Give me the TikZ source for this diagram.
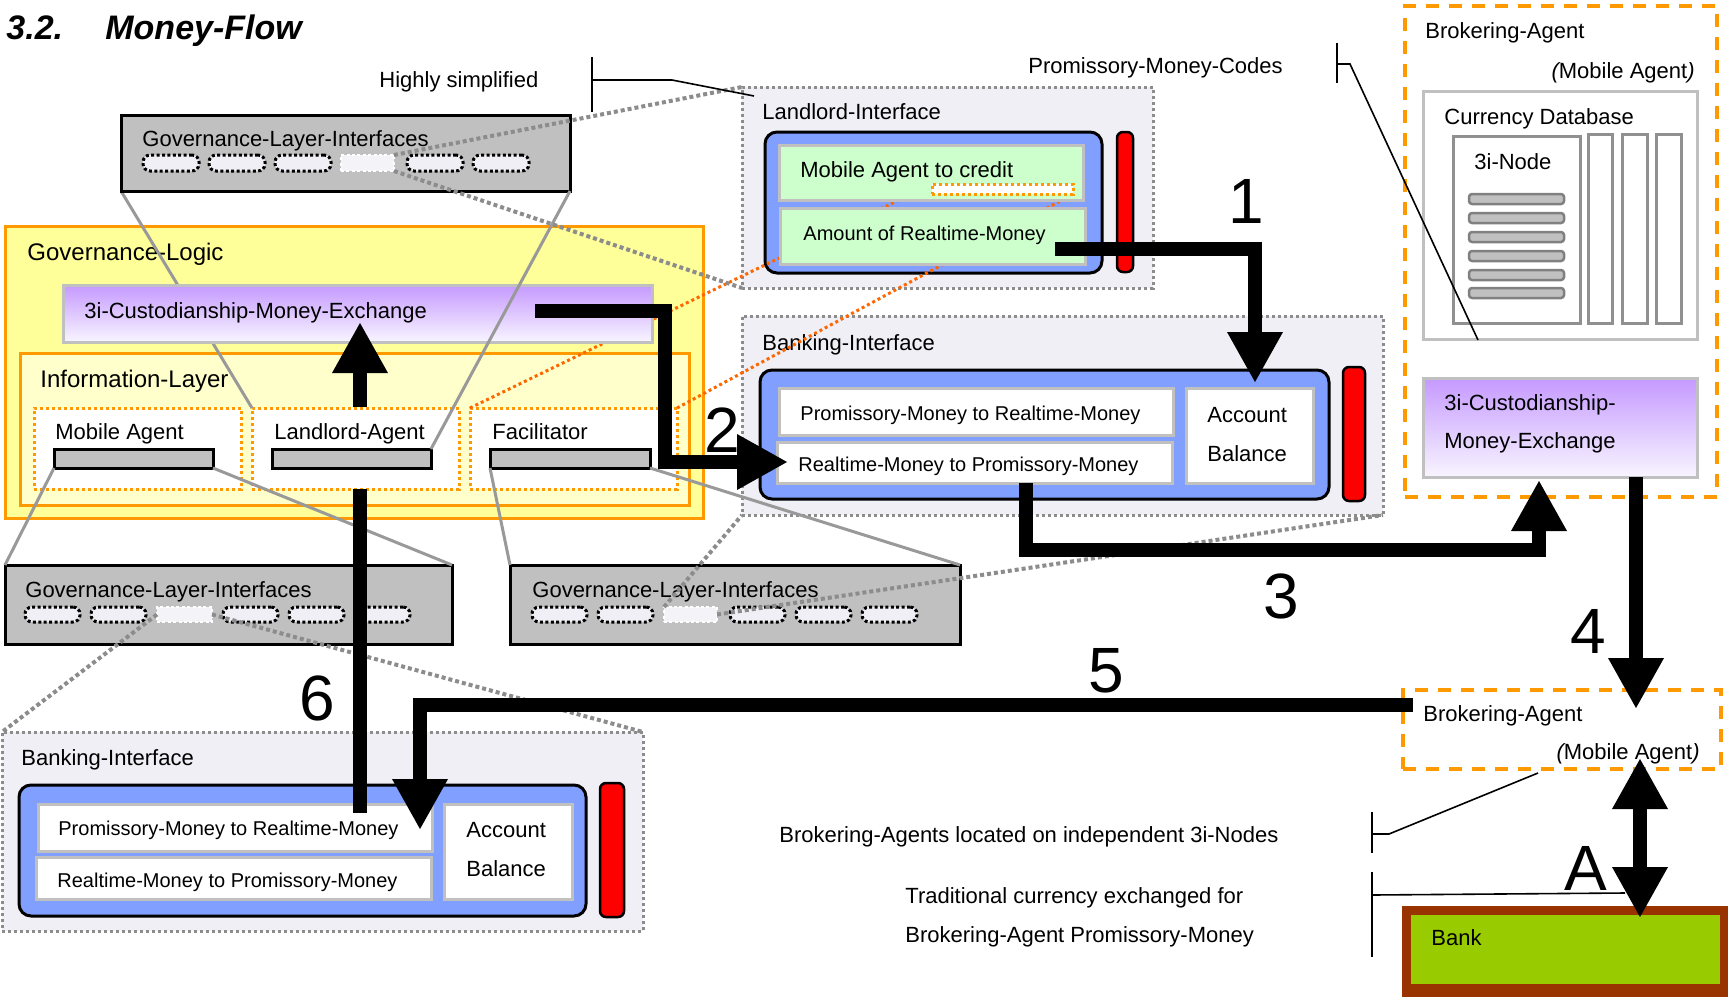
\documentclass[tikz,border=0pt]{standalone}
\usepackage{fontspec}
\setmainfont{Liberation Sans}
\usetikzlibrary{fit,arrows.meta}
\definecolor{ylw}{HTML}{FFFF99}
\definecolor{lylw}{HTML}{FFFFCC}
\definecolor{org}{HTML}{FF9900}
\definecolor{dorg}{HTML}{FF6600}
\definecolor{panec}{HTML}{EFEFF5}
\definecolor{slotw}{HTML}{F4F4F8}
\definecolor{blu}{HTML}{809FFF}
\definecolor{grn}{HTML}{CCFFCC}
\definecolor{gli}{HTML}{C0C0C0}
\definecolor{brn}{HTML}{993300}
\definecolor{lime}{HTML}{99CC00}
\definecolor{purp}{HTML}{C599FF}
\definecolor{purpw}{HTML}{F8F5FF}
\definecolor{lnc}{HTML}{999999}
\definecolor{dgr}{HTML}{8C8C8C}
\definecolor{mgr}{HTML}{909090}
\begin{document}
\begin{tikzpicture}[x=0.5pt,y=-0.5pt,
  box/.style={inner sep=0pt, outer sep=0pt},
  gov/.style={box, fill=ylw, draw=org, line width=1.5pt},
  info/.style={box, fill=lylw, draw=org, line width=1.5pt},
  agent/.style={box, fill=white, draw=org, line width=1.5pt, dash pattern=on 1.5pt off 1.5pt},
  bar/.style={box, fill=gli, draw=black, line width=1.5pt},
  glibox/.style={box, fill=gli, draw=black, line width=1.5pt},
  slot/.style={box, fill=panec, draw=black, line width=1.5pt, dash pattern=on 1.5pt off 1.2pt, rounded corners=3.5pt},
  slotlt/.style={box, fill=slotw, draw=white, line width=1pt, dash pattern=on 1.5pt off 1.2pt},
  panebox/.style={box, fill=panec, draw=dgr, line width=1.5pt, dash pattern=on 1.5pt off 1.5pt},
  bluebox/.style={box, fill=blu, draw=black, line width=1.5pt, rounded corners=6pt},
  greenbox/.style={box, fill=grn, draw=gli, line width=1.5pt},
  whitebox/.style={box, fill=white, draw=gli, line width=1.5pt},
  redbar/.style={box, fill=red, draw=black, line width=1.25pt, rounded corners=3pt},
  purplebox/.style={box, top color=purp, bottom color=purpw, draw=gli, line width=1.5pt},
  broker/.style={box, draw=org, line width=2pt, dash pattern=on 6.5pt off 5pt},
  dbbox/.style={box, fill=white, draw=gli, line width=1.5pt},
  colbox/.style={box, fill=white, draw=mgr, line width=1.5pt},
  dbbar/.style={box, fill=gli, draw=gray, line width=1.25pt, rounded corners=1.5pt},
  proj/.style={draw=lnc, line width=1.5pt},
  projdot/.style={draw=dgr, line width=2pt, dash pattern=on 2pt off 1.5pt},
  orgdot/.style={draw=dorg, line width=1.5pt, dash pattern=on 1.5pt off 1.5pt},
  brk/.style={draw=black, line width=0.8pt},
  flow/.style={draw=black, line width=6.75pt, line join=miter},
  tipA/.style={-{Triangle[length=25.5pt,width=26pt]}},
  lbl/.style={anchor=base west, inner sep=0pt, font=\fontsize{11}{13}\selectfont},
  lblr/.style={anchor=base east, inner sep=0pt, font=\fontsize{11}{13}\selectfont},
  small/.style={anchor=base west, inner sep=0pt, font=\fontsize{10}{12}\selectfont},
  big/.style={anchor=base west, inner sep=0pt, font=\fontsize{12}{14}\selectfont},
  num/.style={anchor=base west, inner sep=0pt, font=\fontsize{32}{36}\selectfont},
  ttl/.style={anchor=base west, inner sep=0pt, font=\fontsize{17}{20}\selectfont\bfseries\itshape}
]
\useasboundingbox (0,0) rectangle (1728,996);

% ---------- title ----------
\node[ttl] (t1) at (6,39) {3.2.};
\node[ttl] (t2) at (105,39) {Money-Flow};

% ---------- governance logic ----------
\node[gov, fit={(5,226) (703,518)}] (gov) {};
\node[big] (govL) at (27,260) {Governance-Logic};
\node[info, fit={(20,353) (689,505)}] (info) {};
\node[big] (infoL) at (40,387) {Information-Layer};
\node[agent, fit={(34,408) (241,489)}] (maBox) {};
\node[agent, fit={(252,408) (459,489)}] (laBox) {};
\node[agent, fit={(470,408) (677,489)}] (faBox) {};
\node[lbl] (maL) at (55,439) {Mobile Agent};
\node[lbl] (laL) at (274,439) {Landlord-Agent};
\node[lbl] (faL) at (492,439) {Facilitator};
\node[bar, fit={(54,449) (213,468)}] (maBar) {};
\node[bar, fit={(272,449) (431,468)}] (laBar) {};
\node[bar, fit={(490,449) (650,468)}] (faBar) {};

% ---------- landlord interface ----------
\node[panebox, fit={(742,87) (1153,288)}] (llBox) {};
\node[lbl] (llL) at (762,119) {Landlord-Interface};
\node[bluebox, fit={(765,132) (1102,273)}] (llBlue) {};
\node[redbar, fit={(1117,132) (1133,272)}] (llRed) {};

% ---------- middle banking interface ----------
\node[panebox, fit={(742,316) (1383,515)}] (bkM) {};
\node[lbl] (bkML) at (762,350) {Banking-Interface};
\node[bluebox, fit={(760,370) (1329,499)}] (bkMBlue) {};
\node[whitebox, fit={(779,388) (1173,435)}] (bkMp) {};
\node[whitebox, fit={(777,442) (1172,483)}] (bkMr) {};
\node[whitebox, fit={(1186,388) (1313,483)}] (bkMa) {};
\node[small] at (800,420) {Promissory-Money to Realtime-Money};
\node[small] at (798,471) {Realtime-Money to Promissory-Money};
\node[lbl] at (1207,422) {Account};
\node[lbl] at (1207,461) {Balance};
\node[redbar, fit={(1343,367) (1365,501)}] (bkMRed) {};

% hidden grey projection line (behind the exchange box)
\draw[proj] (121,191) -- (laBox.north west);

% orange dotted lines from Facilitator to the credit field
\coordinate (tagNW) at (932,184);
\coordinate (tagSE) at (1073,194);
\draw[orgdot] (faBox.north west) -- (tagNW);
\draw[orgdot] (faBox.north east) -- (tagSE);

% exchange box
\node[purplebox, fit={(63,285) (652,342)}] (exch) {};
\node[lbl] (exchL) at (84,318) {3i-Custodianship-Money-Exchange};

% green boxes
\node[greenbox, fit={(779,145) (1083,200)}] (grn1) {};
\node[greenbox, fit={(780,208) (1085,264)}] (grn2) {};
\node[lbl] at (800,177) {Mobile Agent to credit};
\node[small] at (803,240) {Amount of Realtime-Money};
\node[agent, fit={(tagNW) (tagSE)}] (tag) {};

% ---------- governance layer interfaces ----------
\node[glibox, fit={(121,115) (570,191)}] (gliTop) {};
\node[lbl] at (142,146) {Governance-Layer-Interfaces};
\foreach \i in {0,1,2,4,5}
  \node[slot, fit={(143+66*\i,155) (199+66*\i,171)}] (ts\i) {};
\node[slotlt, fit={(341,155) (394,171)}] (ts3) {};

\node[glibox, fit={(5,565) (452,644)}] (gliL) {};
\node[lbl] at (25,597) {Governance-Layer-Interfaces};
\foreach \i in {0,1,3,4,5}
  \node[slot, fit={(25+66*\i,607) (80+66*\i,622)}] (ls\i) {};
\node[slotlt, fit={(157,607) (212,622)}] (ls2) {};

\node[glibox, fit={(510,565) (960,644)}] (gliR) {};
\node[lbl] at (532,597) {Governance-Layer-Interfaces};
\foreach \i in {0,1,3,4,5}
  \node[slot, fit={(532+66*\i,607) (587+66*\i,622)}] (rs\i) {};
\node[slotlt, fit={(664,607) (717,622)}] (rs2) {};

% grey solid projection lines
\draw[proj] (gliTop.south east) -- (laBar.north east);
\draw[proj] (maBar.south west) -- (gliL.north west);
\draw[proj] (maBar.south east) -- (gliL.north east);
\draw[proj] (faBar.south west) -- (gliR.north west);
\draw[proj] (faBar.south east) -- (gliR.north east);

% ---------- lower banking interface ----------
\node[panebox, fit={(2,732) (643,931)}] (bkL) {};
\node[lbl] at (21,765) {Banking-Interface};
\node[bluebox, fit={(19,785) (586,916)}] (bkLBlue) {};
\node[whitebox, fit={(38,804) (432,851)}] (bkLp) {};
\node[whitebox, fit={(36,857) (431,899)}] (bkLr) {};
\node[whitebox, fit={(444,804) (572,899)}] (bkLa) {};
\node[small] at (58,835) {Promissory-Money to Realtime-Money};
\node[small] at (57,887) {Realtime-Money to Promissory-Money};
\node[lbl] at (466,837) {Account};
\node[lbl] at (466,876) {Balance};
\node[redbar, fit={(600,783) (624,917)}] (bkLRed) {};

% grey dotted projection lines
\draw[projdot] (ts3.north east) -- (llBox.north west);
\draw[projdot] (ts3.south east) -- (llBox.south west);
\draw[projdot] (ls2.west) -- (bkL.north west);
\draw[projdot] (ls2.east) -- (bkL.north east);
\draw[projdot] (rs2.north west) -- (bkM.south west);
\draw[projdot] (rs2.east) -- (bkM.south east);

% ---------- brokering agent (top) ----------
\node[broker, fit={(1405,6) (1717,497)}] (baTop) {};
\node[lbl] at (1425,38) {Brokering-Agent};
\node[lblr] at (1695,78) {{\itshape(}Mobile Agent{\itshape)}};
\node[dbbox, fit={(1423,91) (1697,339)}] (cdb) {};
\node[lbl] at (1444,124) {Currency Database};
\node[colbox, fit={(1453,136) (1580,323)}] (node3i) {};
\node[lbl] at (1474,169) {3i-Node};
\foreach \c in {199,218,237,256,275,293}
  \node[dbbar, fit={(1469,\c-5) (1564,\c+5)}] {};
\node[colbox, fit={(1588,134) (1612,323)}] (col1) {};
\node[colbox, fit={(1622,134) (1647,323)}] (col2) {};
\node[colbox, fit={(1656,134) (1681,323)}] (col3) {};
\node[purplebox, fit={(1423,378) (1697,477)}] (baExch) {};
\node[lbl] at (1444,410) {3i-Custodianship-};
\node[lbl] at (1444,448) {Money-Exchange};

% ---------- brokering agent (bottom) ----------
\node[broker, fit={(1403,690) (1721,769)}] (baLow) {};
\node[lbl] at (1423,721) {Brokering-Agent};
\node[lblr] at (1700,759) {{\itshape(}Mobile Agent{\itshape)}};

% ---------- bank ----------
\node[box, fill=brn, fit={(1402,906) (1730,998)}] (bankOut) {};
\node[box, fill=lime, fit={(1411,915) (1720,984)}] (bank) {};
\node[lbl] at (1431,945) {Bank};

% ---------- annotations ----------
\node[lbl] (hs) at (379,87) {Highly simplified};
\draw[brk] (592,57) -- (592,112);
\coordinate (hsEnd) at (754,96);
\draw[brk] (592,80) -- (672,80) -- (hsEnd);

\node[lbl] (pmc) at (1028,73) {Promissory-Money-Codes};
\draw[brk] (1337,43) -- (1337,83);
\coordinate (pmcEnd) at (1478,340);
\draw[brk] (1337,64) -- (1350,64) -- (pmcEnd);

\node[lbl] (ban) at (779,842) {Brokering-Agents located on independent 3i-Nodes};
\draw[brk] (1372,812) -- (1372,853);
\coordinate (banEnd) at (1538,773);
\draw[brk] (1372,834) -- (1389,834) -- (banEnd);

\node[lbl] (tc1) at (905,903) {Traditional currency exchanged for};
\node[lbl] (tc2) at (905,942) {Brokering-Agent Promissory-Money};
\draw[brk] (1372,872) -- (1372,957);
\coordinate (tcEnd) at (1625,893);
\draw[brk] (1372,895) -- (tcEnd);

% ---------- money flow arrows ----------
\coordinate (upS) at (360,407);
\coordinate (upE) at (360,322);
\draw[flow, tipA] (upS) -- (upE);

\coordinate (s6) at (360,489);
\coordinate (e6) at (360,813);
\draw[flow] (s6) -- (e6);

\coordinate (s1) at (1055,249);
\coordinate (e1) at (1255,383);
\draw[flow, tipA] (s1) -| (e1);

\coordinate (s2) at (535,311);
\coordinate (e2) at (788,462);
\draw[flow, tipA] (s2) -- (665,311) -- (665,462) -- (e2);

\coordinate (s3) at (1026,483);
\coordinate (e3) at (1539,480);
\draw[flow, tipA] (s3) -- (1026,550) -- (1539,550) -- (e3);

\coordinate (s4) at (1636,477);
\coordinate (e4) at (1636,709);
\draw[flow, tipA] (s4) -- (e4);

\coordinate (s5) at (1413,705);
\coordinate (e5) at (420,830);
\draw[flow, tipA] (s5) -| (e5);

\coordinate (sA) at (1640,758);
\coordinate (eA) at (1640,918);
\draw[flow, {Triangle[length=25.5pt,width=26pt]}-{Triangle[length=25.5pt,width=26pt]}] (sA) -- (eA);

\node[num] at (1228,223) {1};
\node[num] at (704,452) {2};
\node[num] at (1263,618) {3};
\node[num] at (1570,653) {4};
\node[num] at (1088,692) {5};
\node[num] at (299,720) {6};
\node[num] at (1564,890) {A};
\end{tikzpicture}
\end{document}
